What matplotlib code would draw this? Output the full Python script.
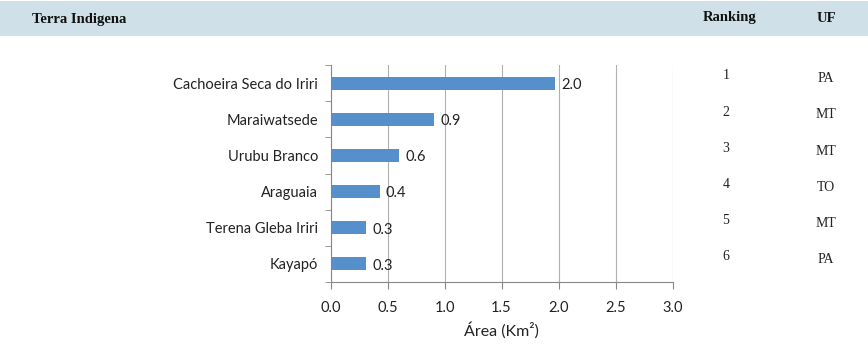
import numpy as np
import matplotlib.pyplot as plt
from matplotlib.patches import Rectangle
from matplotlib.transforms import blended_transform_factory

# Data
terras = ["Cachoeira Seca do Iriri", "Maraiwatsede", "Urubu Branco",
          "Araguaia", "Terena Gleba Iriri", "Kayapó"]
area = [1.97, 0.91, 0.60, 0.43, 0.31, 0.31]
area_labels = ["2.0", "0.9", "0.6", "0.4", "0.3", "0.3"]
ranking = ["1", "2", "3", "4", "5", "6"]
uf = ["PA", "MT", "MT", "TO", "MT", "PA"]
xticks = [0.0, 0.5, 1.0, 1.5, 2.0, 2.5, 3.0]

sans = ["Lato", "DejaVu Sans"]
serif = ["Liberation Serif", "DejaVu Serif"]

fig = plt.figure(figsize=(8.68, 3.53), dpi=100)
fig.patch.set_facecolor("white")

# header band
fig.patches.append(Rectangle((0, 1 - 36 / 353), 1, 35 / 353, transform=fig.transFigure,
                             facecolor="#cfe0e8", edgecolor="none", zorder=0))
fig.text(32 / 868, 1 - 19 / 353, "Terra Indigena", family=serif, fontweight="bold",
         fontsize=10.5, va="center", ha="left", color="#111111")
fig.text(730 / 868, 1 - 18 / 353, "Ranking", family=serif, fontweight="bold",
         fontsize=10.5, va="center", ha="center", color="#111111")
fig.text(826 / 868, 1 - 18 / 353, "UF", family=serif, fontweight="bold",
         fontsize=10.5, va="center", ha="center", color="#111111")

ax = fig.add_axes([330.5 / 868, 1 - 282 / 353, 342 / 868, 217 / 353])
y = np.arange(len(terras))
ax.barh(y, area, height=0.36, color="#5590cc", zorder=3)
ax.set_ylim(len(terras) - 0.5, -0.5)
ax.set_xlim(0, 3.0)

for yi, v, lab in zip(y, area, area_labels):
    ax.text(v + 0.055, yi + 0.05, lab, family=sans, fontsize=10.5, va="center",
            ha="left", color="#222222")

ax.set_xticks(xticks)
ax.set_xticklabels([f"{t:.1f}" for t in xticks], family=sans, fontsize=10.5, color="#222222")
ax.set_yticks(y)
ax.set_yticklabels(terras, family=sans, fontsize=10.5, color="#222222")
ax.set_yticks(np.arange(len(terras) + 1) - 0.5, minor=True)
ax.tick_params(axis="y", which="major", length=0, pad=9)
ax.tick_params(axis="y", which="minor", length=4, color="#888888")
ax.tick_params(axis="x", length=5, color="#888888", pad=9)

ax.grid(axis="x", color="#b0b0b0", linewidth=0.8, zorder=0)
for s in ["top", "right"]:
    ax.spines[s].set_visible(False)
for s in ["left", "bottom"]:
    ax.spines[s].set_color("#888888")

ax.set_xlabel("Área (Km²)", family=sans, fontsize=11.5, color="#222222", labelpad=5)

# ranking and UF columns
tr = blended_transform_factory(fig.transFigure, ax.transData)
for yi, r, u in zip(y, ranking, uf):
    ax.text(726 / 868, yi - 0.2, r, transform=tr, family=serif, fontsize=10,
            ha="center", va="center", color="#222222")
    ax.text(826 / 868, yi - 0.12, u, transform=tr, family=serif, fontsize=10,
            ha="center", va="center", color="#222222")

fig.savefig("out.png", dpi=100)
